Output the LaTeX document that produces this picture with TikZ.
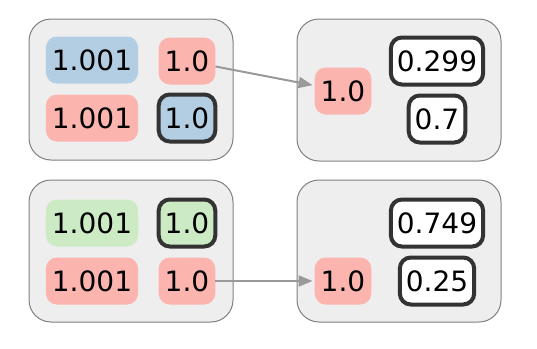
\documentclass[tikz,border=0pt]{standalone}
\usepackage{fontspec}
\setmainfont{DejaVu Sans}
\usetikzlibrary{arrows.meta}
\definecolor{pblue}{HTML}{B3CDE3}
\definecolor{pred}{HTML}{FBB4AE}
\definecolor{pgreen}{HTML}{CCEBC5}
\definecolor{boxbg}{HTML}{EEEEEE}
\definecolor{boxline}{HTML}{808080}
\definecolor{bold}{HTML}{333333}
\definecolor{arr}{HTML}{999999}
\tikzset{
  group/.style={draw=boxline, fill=boxbg, line width=1pt, rounded corners=22pt},
  val/.style={rectangle, rounded corners=11pt, inner xsep=6pt, inner ysep=0pt,
    minimum height=47pt, font=\fontsize{28}{34}\selectfont},
  hl/.style={val, draw=bold, line width=4pt},
  link/.style={draw=arr, line width=2pt, -{Triangle[length=14pt,width=11pt]}, shorten >=2pt}
}
\begin{document}
\begin{tikzpicture}[x=1pt,y=-1pt]
\useasboundingbox (0,0) rectangle (537,348);
\draw[group] (29,19) rectangle (233,160);
\draw[group] (297,19) rectangle (501,161);
\draw[group] (29,180) rectangle (233,322);
\draw[group] (297,180) rectangle (501,322);
% box 1
\node[val, fill=pblue] (a1) at (92,60) {1.001};
\node[val, fill=pred] (a2) at (187,61) {1.0};
\node[val, fill=pred] (a3) at (92,118) {1.001};
\node[hl, fill=pblue] (a4) at (187,118) {1.0};
% box 2
\node[val, fill=pred] (b1) at (343,91) {1.0};
\node[hl, fill=white] (b2) at (437,61) {0.299};
\node[hl, fill=white] (b3) at (437,119) {0.7};
% box 3
\node[val, fill=pgreen] (c1) at (92,223) {1.001};
\node[hl, fill=pgreen] (c2) at (187,223) {1.0};
\node[val, fill=pred] (c3) at (92,281) {1.001};
\node[val, fill=pred] (c4) at (187,281) {1.0};
% box 4
\node[hl, fill=white] (d1) at (437,223) {0.749};
\node[val, fill=pred] (d2) at (343,281) {1.0};
\node[hl, fill=white] (d3) at (437,281) {0.25};
% arrows
\draw[link] (a2) -- (b1);
\draw[link] (c4) -- (d2);
\end{tikzpicture}
\end{document}
